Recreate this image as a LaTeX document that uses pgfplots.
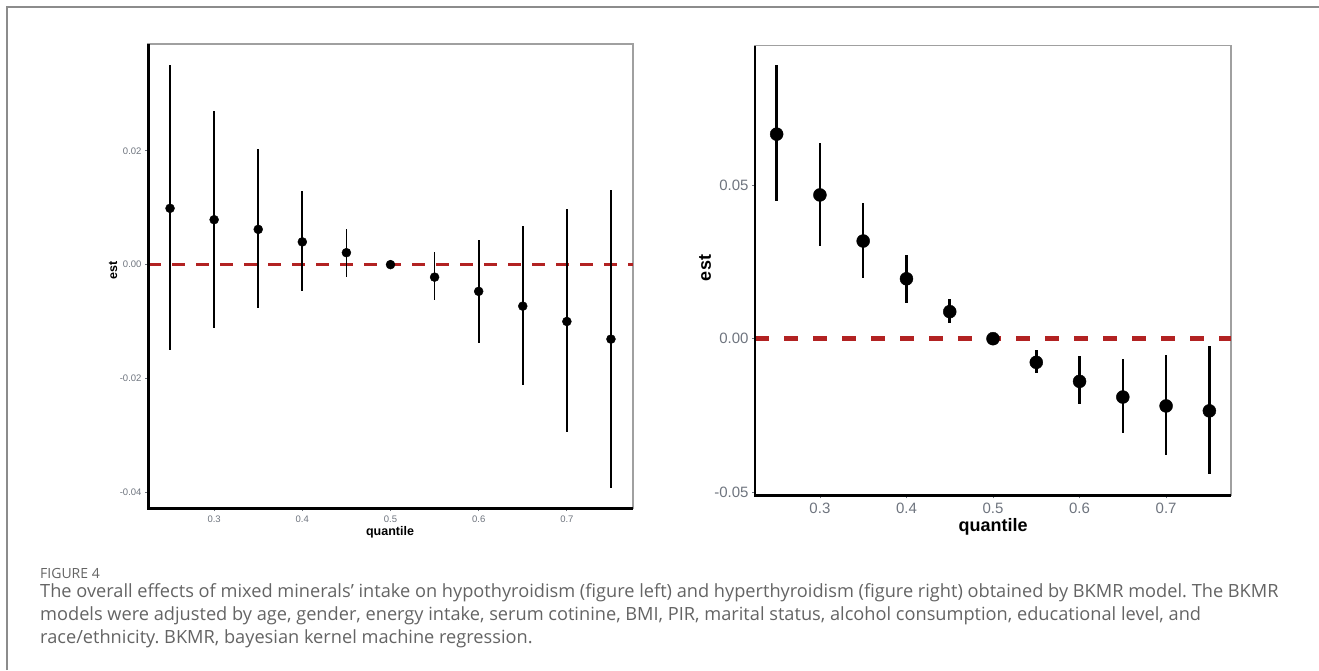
\documentclass[border=0pt]{standalone}
\usepackage{fontspec}
\setmainfont{Liberation Sans}
\newfontfamily\capfont{Open Sans}
\usepackage{pgfplots}
\usepackage{pgfplotstable}
\pgfplotsset{compat=1.18}
\frenchspacing

\definecolor{zeroline}{RGB}{178,34,34}
\definecolor{ticklab}{RGB}{110,116,126}
\definecolor{panelgray}{RGB}{160,160,160}
\definecolor{framegray}{RGB}{140,140,140}
\definecolor{captxt}{RGB}{100,100,100}

% hypothyroidism (left)
\pgfplotstableread{
q    est     lo      hi
0.25 0.0099  -0.0150 0.0351
0.30 0.0079  -0.0111 0.0271
0.35 0.0062  -0.0076 0.0204
0.40 0.0040  -0.0047 0.0129
0.45 0.0021  -0.0021 0.0063
0.50 0.0000  0.0000  0.0000
0.55 -0.0022 -0.0063 0.0022
0.60 -0.0047 -0.0137 0.0043
0.65 -0.0073 -0.0211 0.0068
0.70 -0.0100 -0.0294 0.0097
0.75 -0.0131 -0.0392 0.0131
}\lefttab

% hyperthyroidism (right)
\pgfplotstableread{
q    est     lo      hi
0.25 0.0666  0.0448  0.0890
0.30 0.0468  0.0302  0.0637
0.35 0.0318  0.0198  0.0441
0.40 0.0195  0.0117  0.0273
0.45 0.0088  0.0051  0.0128
0.50 0.0000  0.0000  0.0000
0.55 -0.0077 -0.0113 -0.0037
0.60 -0.0139 -0.0214 -0.0057
0.65 -0.0190 -0.0306 -0.0066
0.70 -0.0219 -0.0379 -0.0054
0.75 -0.0235 -0.0441 -0.0023
}\righttab

\pgfplotsset{
  bkmr/.style={
    scale only axis, anchor=south west,
    xmin=0.225, xmax=0.775,
    scaled y ticks=false, scaled x ticks=false,
    axis line style={panelgray, line width=1.5pt},
    tick align=outside, xtick pos=lower, ytick pos=left,
    major tick style={ticklab, line width=0.8pt},
    major tick length=3pt,
    xtick={0.3,0.4,0.5,0.6,0.7},
    xticklabels={0.3,0.4,0.5,0.6,0.7},
    clip=false,
  },
}

\begin{document}
\begin{tikzpicture}[x=1pt,y=1pt]
\path[use as bounding box] (0,0) rectangle (1319,670);
\draw[framegray, line width=1.5pt] (7,0) -- (7,663) -- (1319,663);

% left panel
\begin{axis}[bkmr, at={(148pt,162pt)}, width=485pt, height=464pt,
  ymin=-0.0428, ymax=0.0388,
  ytick={-0.04,-0.02,0,0.02},
  yticklabels={-0.04,-0.02,0.00,0.02},
  tick label style={font=\fontsize{9.5}{11}\selectfont, text=ticklab},
  xticklabel style={yshift=-1pt},
]
\addplot[zeroline, line width=3pt, dash pattern=on 13pt off 11pt] coordinates {(0.225,0) (0.775,0)};
\addplot[black, only marks, mark=*, mark size=4.5pt,
  error bars/.cd, y dir=both, y explicit, error mark=none,
  error bar style={line width=1.8pt}]
  table[x=q, y=est, y error plus expr=\thisrow{hi}-\thisrow{est},
        y error minus expr=\thisrow{est}-\thisrow{lo}] {\lefttab};
\draw[black, line width=3pt] (rel axis cs:0,1) -- (rel axis cs:0,0) -- (rel axis cs:1,0);
\end{axis}
\node[font=\fontsize{12.5}{14}\selectfont\bfseries] at (390,138) {quantile};
\node[font=\fontsize{12.5}{14}\selectfont\bfseries, rotate=90] at (113,400) {est};

% right panel
\begin{axis}[bkmr, at={(755pt,174.7pt)}, width=476pt, height=449.6pt,
  ymin=-0.0510, ymax=0.0954,
  ytick={-0.05,0,0.05},
  yticklabels={-0.05,0.00,0.05},
  tick label style={font=\fontsize{15}{17}\selectfont, text=ticklab},
  xticklabel style={yshift=-1pt},
]
\addplot[zeroline, line width=4.5pt, dash pattern=on 14pt off 15pt] coordinates {(0.225,0) (0.775,0)};
\addplot[black, only marks, mark=*, mark size=6.5pt,
  error bars/.cd, y dir=both, y explicit, error mark=none,
  error bar style={line width=2.5pt}]
  table[x=q, y=est, y error plus expr=\thisrow{hi}-\thisrow{est},
        y error minus expr=\thisrow{est}-\thisrow{lo}] {\righttab};
\draw[black, line width=2.5pt] (rel axis cs:0,1) -- (rel axis cs:0,0) -- (rel axis cs:1,0);
\end{axis}
\node[font=\fontsize{18}{20}\selectfont\bfseries] at (993,143) {quantile};
\node[font=\fontsize{18}{20}\selectfont\bfseries, rotate=90] at (705,402) {est};

% caption
\begin{scope}[every node/.style={anchor=base west, inner sep=0pt, text=captxt}]
\node[font=\capfont\fontsize{14}{16}\selectfont] at (40,92) {FIGURE 4};
\node[font=\capfont\fontsize{18.2}{21}\selectfont] at (40,73) {The overall effects of mixed minerals’ intake on hypothyroidism (figure left) and hyperthyroidism (figure right) obtained by BKMR model. The BKMR};
\node[font=\capfont\fontsize{18.2}{21}\selectfont] at (40,50) {models were adjusted by age, gender, energy intake, serum cotinine, BMI, PIR, marital status, alcohol consumption, educational level, and};
\node[font=\capfont\fontsize{18.2}{21}\selectfont] at (40,27) {race/ethnicity. BKMR, bayesian kernel machine regression.};
\end{scope}
\end{tikzpicture}
\end{document}
